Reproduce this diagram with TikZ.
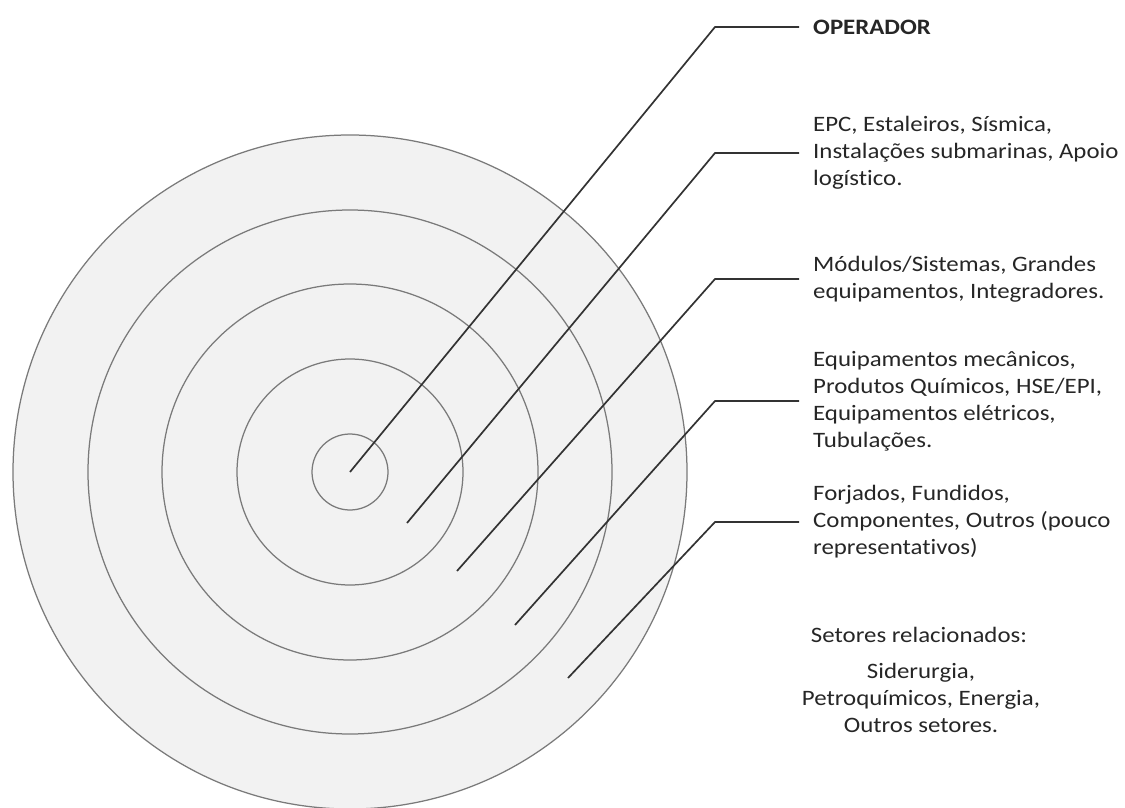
\documentclass[tikz,border=0pt]{standalone}
\usepackage{fontspec}
\setmainfont{Carlito}[FakeStretch=1.13, Ligatures=NoCommon]
\definecolor{ringfill}{HTML}{F2F2F2}
\definecolor{ringline}{HTML}{7A7A7A}
\definecolor{leader}{HTML}{333333}
\definecolor{txt}{HTML}{262626}
\begin{document}
\begin{tikzpicture}[x=1pt,y=-1pt,
  ring/.style={draw=ringline, line width=1.25pt},
  leaderline/.style={draw=leader, line width=1.7pt},
  lbl/.style={anchor=west, align=left, inner xsep=14pt, inner ysep=0pt, font=\fontsize{22}{27}\selectfont, text=txt},
  ctr/.style={align=center, inner sep=0pt, font=\fontsize{22}{27}\selectfont, text=txt}]
\useasboundingbox (0,0) rectangle (1125,808);
\coordinate (c) at (350,472);
\fill[ringfill] (c) circle[radius=337pt];
\foreach \r in {337,262,188,113,38} \draw[ring] (c) circle[radius=\r pt];

\node[lbl] (l1) at (799,27) {\textbf{OPERADOR}};
\node[lbl] (l2) at (799,153) {EPC, Estaleiros, Sísmica,\\Instalações submarinas, Apoio\\logístico.};
\node[lbl] (l3) at (799,279) {Módulos/Sistemas, Grandes\\equipamentos, Integradores.};
\node[lbl] (l4) at (799,401) {Equipamentos mecânicos,\\Produtos Químicos, HSE/EPI,\\Equipamentos elétricos,\\Tubulações.};
\node[lbl] (l5) at (799,522) {Forjados, Fundidos,\\Componentes, Outros (pouco\\representativos)};
\node[ctr, anchor=base] (s0) at (919,642) {Setores relacionados:};
\node[ctr, anchor=north] (s1) at (921,663) {Siderurgia,\\Petroquímicos, Energia,\\Outros setores.};

\coordinate (ex) at (715,0);
\coordinate (p1) at (350,472);
\coordinate (p2) at (407,523);
\coordinate (p3) at (457,571);
\coordinate (p4) at (515,625);
\coordinate (p5) at (568,678);
\draw[leaderline] (p1) -- (ex |- l1.west) -- (l1.west);
\draw[leaderline] (p2) -- (ex |- l2.west) -- (l2.west);
\draw[leaderline] (p3) -- (ex |- l3.west) -- (l3.west);
\draw[leaderline] (p4) -- (ex |- l4.west) -- (l4.west);
\draw[leaderline] (p5) -- (ex |- l5.west) -- (l5.west);
\end{tikzpicture}
\end{document}
